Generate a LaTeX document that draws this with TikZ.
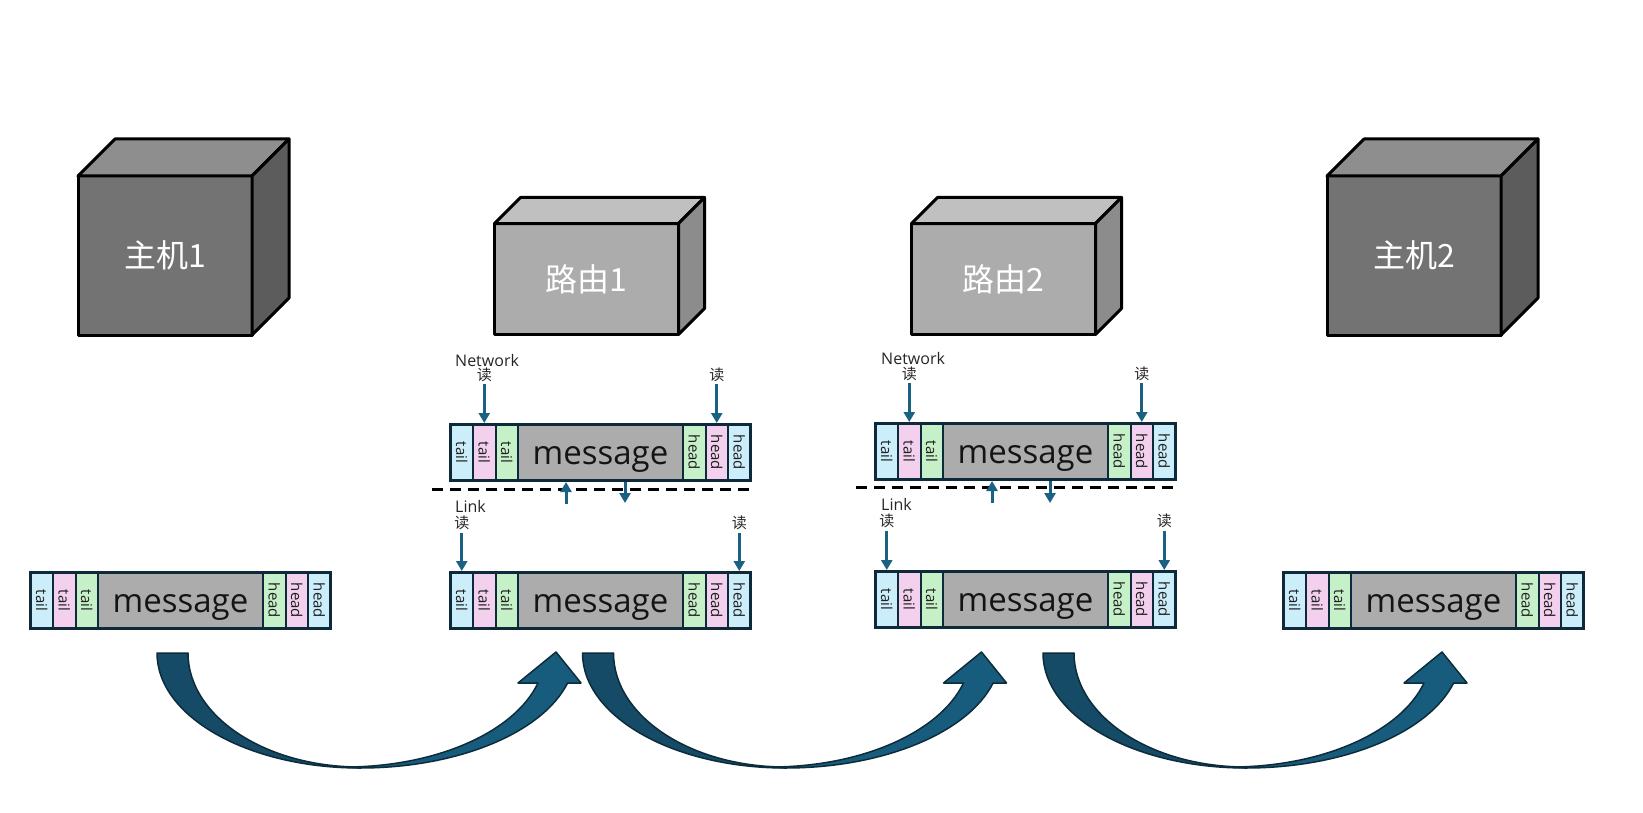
\documentclass[tikz,border=0pt]{standalone}
\usepackage{fontspec}
\setmainfont{Open Sans}
\newfontfamily\cjk{Noto Sans CJK SC}
\usetikzlibrary{arrows.meta}
\definecolor{pborder}{HTML}{0E2A3A}
\definecolor{cblue}{HTML}{CCEEFB}
\definecolor{cpink}{HTML}{F2D0EE}
\definecolor{cgreen}{HTML}{C6F0C8}
\definecolor{cgrey}{HTML}{ACACAC}
\definecolor{arrowblue}{HTML}{1A6183}
\definecolor{hostfront}{HTML}{737373}
\definecolor{hosttop}{HTML}{8E8E8E}
\definecolor{hostside}{HTML}{5C5C5C}
\definecolor{routerfront}{HTML}{ACACAC}
\definecolor{routertop}{HTML}{C0C0C0}
\definecolor{routerside}{HTML}{8C8C8C}
\definecolor{bigdarkc}{HTML}{154B66}
\definecolor{biglightc}{HTML}{185C7D}
\definecolor{bigline}{HTML}{0D2C3B}
\tikzset{
  cell/.style={draw=pborder, line width=2pt, inner sep=0pt, outer sep=0pt, minimum height=56pt, anchor=north west},
  sidecell/.style={cell, minimum width=22.5pt},
  msgcell/.style={cell, minimum width=165pt, fill=cgrey},
  celltxt/.style={rotate=-90, font=\fontsize{15}{15}\selectfont, inner sep=0pt, text=black!88},
  msgtxt/.style={font=\fontsize{33}{36}\selectfont, inner sep=0pt, text=black!92},
  pkborder/.style={draw=pborder, line width=3pt},
  readlbl/.style={font=\cjk\fontsize{15}{15}\selectfont, inner sep=0pt, text height=12pt, text depth=2pt, text=black!85},
  laylbl/.style={font=\fontsize{16}{16}\selectfont, inner sep=0pt, anchor=base west, text=black!85},
  rarrow/.style={draw=arrowblue, line width=3pt, -{Triangle[width=11pt,length=10pt]}},
  dashline/.style={draw=black, line width=3pt, dash pattern=on 11pt off 7pt},
  cubeedge/.style={draw=black, line width=3pt, line join=round},
  cubetxt/.style={font=\cjk\fontsize{32}{36}\selectfont, text=white},
  bigdark/.style={fill=bigdarkc, draw=bigline, line width=1.5pt, line join=round},
  biglight/.style={fill=biglightc, draw=bigline, line width=1.5pt, line join=round},
}
\newcommand\mypacket[3]{%
  \node[sidecell, fill=cblue] (#1t1) at (#2,#3) {};
  \node[sidecell, fill=cpink] (#1t2) at (#1t1.north east) {};
  \node[sidecell, fill=cgreen] (#1t3) at (#1t2.north east) {};
  \node[msgcell] (#1m) at (#1t3.north east) {};
  \node[sidecell, fill=cgreen] (#1h1) at (#1m.north east) {};
  \node[sidecell, fill=cpink] (#1h2) at (#1h1.north east) {};
  \node[sidecell, fill=cblue] (#1h3) at (#1h2.north east) {};
  \draw[pkborder] (#1t1.north west) rectangle (#1h3.south east);
  \foreach \c in {t1,t2,t3}{\node[celltxt] (#1\c txt) at (#1\c.center) {tail};}
  \foreach \c in {h1,h2,h3}{\node[celltxt] (#1\c txt) at (#1\c.center) {head};}
  \node[msgtxt] (#1mtxt) at ([yshift=-7pt]#1m.center) {message};
}
\newcommand\mycube[8]{%
  \node[cubeedge, fill=#7front, minimum width=#4pt, minimum height=#5pt, anchor=north west, inner sep=0pt, outer sep=0pt, cubetxt] (#1) at (#2,#3) {#8};
  \filldraw[cubeedge, fill=#7top] (#1.north west) -- ++(#6,-#6) -- ++(#4,0) -- (#1.north east) -- cycle;
  \filldraw[cubeedge, fill=#7side] (#1.north east) -- ++(#6,-#6) -- ++(0,#5) -- (#1.south east) -- cycle;
}
\newcommand\bigarrow[1]{%
  \begin{scope}[shift={(#1,0)}]
    \filldraw[bigdark] (0,653) .. controls (0,716.5) and (90.9,768) .. (203,768) -- (203,767) .. controls (108,767) and (31,716) .. (31,653) -- cycle;
    \filldraw[biglight] (188,767) -- (203,768) .. controls (300.2,768) and (385.2,733.2) .. (410.6,683) -- (424,683) -- (399,652) -- (361,683) -- (381,683) .. controls (357.3,732.6) and (278.2,767) .. (188,767) -- cycle;
  \end{scope}
}
\begin{document}
\begin{tikzpicture}[x=1pt, y=-1pt]
\useasboundingbox (0,0) rectangle (1643,813);
\fill[white] (0,0) rectangle (1643,813);

% cubes
\mycube{host1}{78}{176}{174}{159}{37}{host}{主机1}
\mycube{router1}{494.5}{223.5}{184}{111}{26}{router}{路由1}
\mycube{router2}{911.5}{223.5}{184}{111}{26}{router}{路由2}
\mycube{host2}{1327}{176}{174}{159}{37}{host}{主机2}

% packets
\mypacket{pa}{30.5}{572.5}
\mypacket{rau}{450.5}{424.5}
\mypacket{ral}{450.5}{572.5}
\mypacket{rbu}{875.5}{423.5}
\mypacket{rbl}{875.5}{571.5}
\mypacket{pb}{1283.5}{572.5}

% router 1 layers
\node[laylbl] (ranet) at (455,366) {Network};
\node[readlbl] (rardA) at (484.25,375) {读};
\node[readlbl] (rardB) at (716.75,375) {读};
\node[laylbl] (ralink) at (455,512) {Link};
\node[readlbl] (rardC) at (461.75,523.5) {读};
\node[readlbl] (rardD) at (739.25,523.5) {读};
\draw[rarrow, shorten <=2pt, shorten >=1.5pt] (rardA) -- (raut2);
\draw[rarrow, shorten <=2pt, shorten >=1.5pt] (rardB) -- (rauh2);
\draw[rarrow, shorten <=2pt, shorten >=1.5pt] (rardC) -- (ralt1);
\draw[rarrow, shorten <=2pt, shorten >=1.5pt] (rardD) -- (ralh3);
\coordinate (radl) at (432,489);
\coordinate (radr) at (755,489);
\draw[dashline] (radl) -- (radr);
\coordinate (raup) at (566,504);
\coordinate (radn) at (625,503);
\draw[rarrow, shorten >=1.5pt] (raup) -- (raup |- raum.south);
\draw[rarrow, shorten <=1.5pt] (radn |- raum.south) -- (radn);

% router 2 layers
\node[laylbl] (rbnet) at (881,364) {Network};
\node[readlbl] (rbrdA) at (909.25,374) {读};
\node[readlbl] (rbrdB) at (1141.75,374) {读};
\node[laylbl] (rblink) at (881,510) {Link};
\node[readlbl] (rbrdC) at (886.75,521.5) {读};
\node[readlbl] (rbrdD) at (1164.25,521.5) {读};
\draw[rarrow, shorten <=2pt, shorten >=1.5pt] (rbrdA) -- (rbut2);
\draw[rarrow, shorten <=2pt, shorten >=1.5pt] (rbrdB) -- (rbuh2);
\draw[rarrow, shorten <=2pt, shorten >=1.5pt] (rbrdC) -- (rblt1);
\draw[rarrow, shorten <=2pt, shorten >=1.5pt] (rbrdD) -- (rblh3);
\coordinate (rbdl) at (856,487);
\coordinate (rbdr) at (1179,487);
\draw[dashline] (rbdl) -- (rbdr);
\coordinate (rbup) at (992,503);
\coordinate (rbdn) at (1050,503);
\draw[rarrow, shorten >=1.5pt] (rbup) -- (rbup |- rbum.south);
\draw[rarrow, shorten <=1.5pt] (rbdn |- rbum.south) -- (rbdn);

% big curved arrows
\bigarrow{157}
\bigarrow{582.5}
\bigarrow{1043}
\end{tikzpicture}
\end{document}
